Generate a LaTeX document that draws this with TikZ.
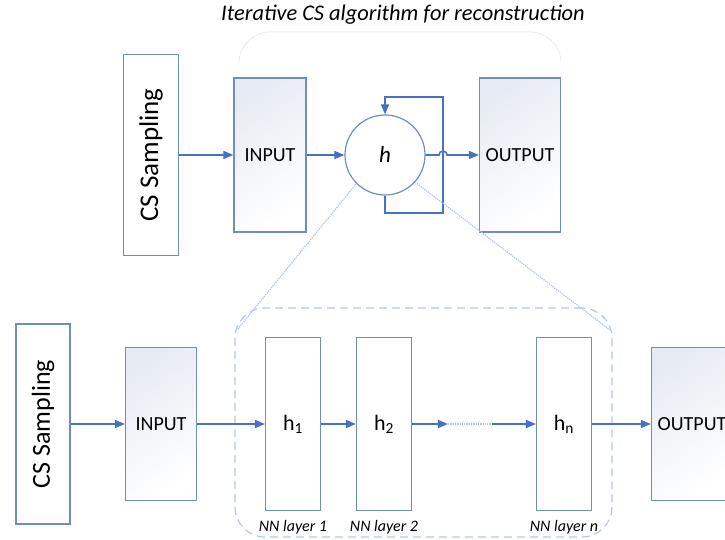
\documentclass[tikz,border=0pt]{standalone}
\usepackage{fontspec}
\setmainfont{Carlito}
\usetikzlibrary{arrows.meta,positioning}
\definecolor{boxc}{RGB}{109,142,191}
\definecolor{arrc}{RGB}{68,114,196}
\definecolor{fadec}{RGB}{180,199,231}
\definecolor{shadec}{RGB}{231,235,243}
\begin{document}
\begin{tikzpicture}[x=1pt, y=1pt,
  block/.style={rectangle, draw=boxc, line width=1.2pt, minimum width=55pt, minimum height=173pt, inner sep=0pt, font=\fontsize{22}{22}\selectfont},
  io/.style={block, minimum width=72pt, minimum height=154pt, top color=shadec, bottom color=white, shading angle=35, font=\fontsize{20}{20}\selectfont},
  sampler/.style={block, minimum width=55pt, minimum height=201pt, font=\fontsize{27}{27}\selectfont},
  layer/.style={font=\itshape\fontsize{16}{16}\selectfont},
  arr/.style={-{Triangle[length=10pt,width=8pt]}, arrc, line width=1.6pt},
  fade/.style={fadec, line width=1.3pt, densely dotted},
  node distance=120pt
]
\useasboundingbox (0,0) rectangle (725,540);
\node[font=\itshape\fontsize{22.4}{22.4}\selectfont] (title) at (403,525) {Iterative CS algorithm for reconstruction};
\draw[black!12, line width=1pt, densely dotted, rounded corners=31pt] (239,477) |- (561,508) -- (561,477);

\node[sampler] (csA) at (151,385) {\rotatebox{90}{CS Sampling}};
\node[io, right of=csA, node distance=119pt] (inA) {INPUT};
\node[circle, draw=boxc, line width=1.2pt, minimum size=80pt, inner sep=0pt, right of=inA, node distance=115pt, font=\itshape\fontsize{23}{23}\selectfont] (hc) {h};
\node[io, minimum width=81pt, right of=hc, node distance=135pt] (outA) {OUTPUT};

\coordinate (loopB) at (443,327);
\coordinate (loopT) at (443,443);
\coordinate (hop) at (loopB |- hc.east);
\draw[arr] (csA) -- (inA);
\draw[arr] (inA) -- (hc);
\draw[arr] (hc.south) |- (loopB) -- (loopT) -| (hc.north);
\draw[arr] (hc.east) -- ([xshift=-4pt]hop) arc[start angle=180, end angle=0, radius=4pt] -- (outA.west);

\node[draw=fadec, line width=1.2pt, dash pattern=on 8pt off 5pt, rounded corners=30pt, minimum width=377pt, minimum height=229pt] (nnbox) at (423.5,117.5) {};
\coordinate (zl) at (237,210);
\coordinate (zr) at (610,210);
\draw[fade] (hc.225) -- (zl);
\draw[fade] (hc.-42) -- (zr);

\node[sampler, minimum height=200pt, minimum width=54pt, font=\fontsize{26}{26}\selectfont] (csB) at (43,116) {\rotatebox{90}{CS Sampling}};
\node[io, minimum width=71pt, minimum height=153pt, right of=csB, node distance=118pt] (inB) {INPUT};
\node[block, right of=inB, node distance=132pt] (h1) {h\textsubscript{1}};
\node[block, right of=h1, node distance=91pt] (h2) {h\textsubscript{2}};
\node[block, right of=h2, node distance=180pt] (hn) {h\textsubscript{n}};
\node[io, minimum width=81pt, minimum height=153pt, right of=hn, node distance=128pt] (outB) {OUTPUT};

\node[layer, below of=h1, node distance=103pt] (l1) {NN layer 1};
\node[layer, below of=h2, node distance=103pt] (l2) {NN layer 2};
\node[layer, below of=hn, node distance=103pt] (ln) {NN layer n};

\coordinate (dA) at (448,116);
\coordinate (dB) at (492,116);
\draw[arr] (csB) -- (inB);
\draw[arr] (inB) -- (h1);
\draw[arr] (h1) -- (h2);
\draw[arr] (h2) -- (dA);
\draw[fade] (dA) -- (dB);
\draw[arr] (dB) -- (hn);
\draw[arr] (hn) -- (outB);
\end{tikzpicture}
\end{document}
